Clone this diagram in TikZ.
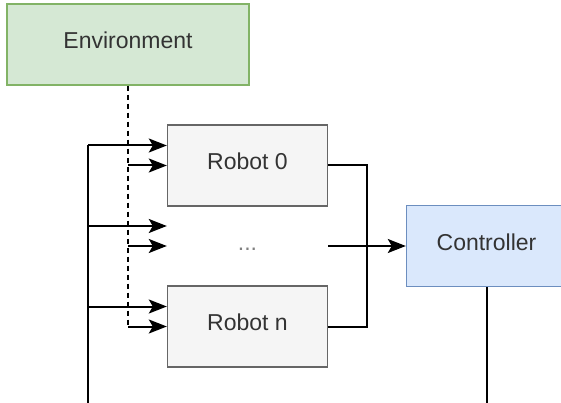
\documentclass[tikz,border=0pt]{standalone}
\usepackage{fontspec}
\setmainfont{Liberation Sans}
\usetikzlibrary{arrows.meta}
\definecolor{envfill}{HTML}{D5E8D4}
\definecolor{envline}{HTML}{82B366}
\definecolor{ctrlfill}{HTML}{DAE8FC}
\definecolor{ctrlline}{HTML}{6C8EBF}
\definecolor{robfill}{HTML}{F5F5F5}
\definecolor{robline}{HTML}{666666}
\definecolor{txt}{HTML}{333333}
\begin{document}
\begin{tikzpicture}[x=1pt,y=-1pt,
  block/.style={draw,line width=1.4pt,minimum width=160pt,minimum height=81pt,
    inner sep=0pt,text=txt,font=\fontsize{23}{26}\selectfont,
    text height=1em,text depth=0.16em},
  robotbox/.style={block,fill=robfill,draw=robline},
  wire/.style={line width=2pt},
  flow/.style={wire,-{Stealth[length=18pt,width=14pt,inset=4pt]}}]
  \useasboundingbox (0,0) rectangle (561,403);
  \node[block,fill=envfill,draw=envline,minimum width=242pt] (env) at (128,44.5) {Environment};
  \node[robotbox] (rob0) at (247.5,165.5) {Robot 0};
  \node[block,draw=none,text=gray] (dots) at (247.5,246) {...};
  \node[robotbox] (robn) at (247.5,326.5) {Robot n};
  \node[block,fill=ctrlfill,draw=ctrlline] (ctrl) at (486.5,246) {Controller};
  \coordinate (busbot) at (88,410);
  \coordinate (merge) at (367,165.5);
  \draw[wire,dash pattern=on 5pt off 4pt] (env.south) -- (env.south |- robn.west);
  \foreach \r in {rob0,dots,robn}{
    \coordinate (\r-in) at ([yshift=20pt]\r.west);
    \draw[flow] (busbot |- \r-in) -- (\r-in);
    \draw[flow] (env.south |- \r.west) -- (\r.west);
  }
  \draw[wire] (busbot) -- (busbot |- rob0-in);
  \draw[wire] (rob0.east) -- (merge) |- (robn.east);
  \draw[flow] (dots.east) -- (ctrl.west);
  \draw[wire] (ctrl.south) -- (ctrl.south |- busbot);
\end{tikzpicture}
\end{document}
